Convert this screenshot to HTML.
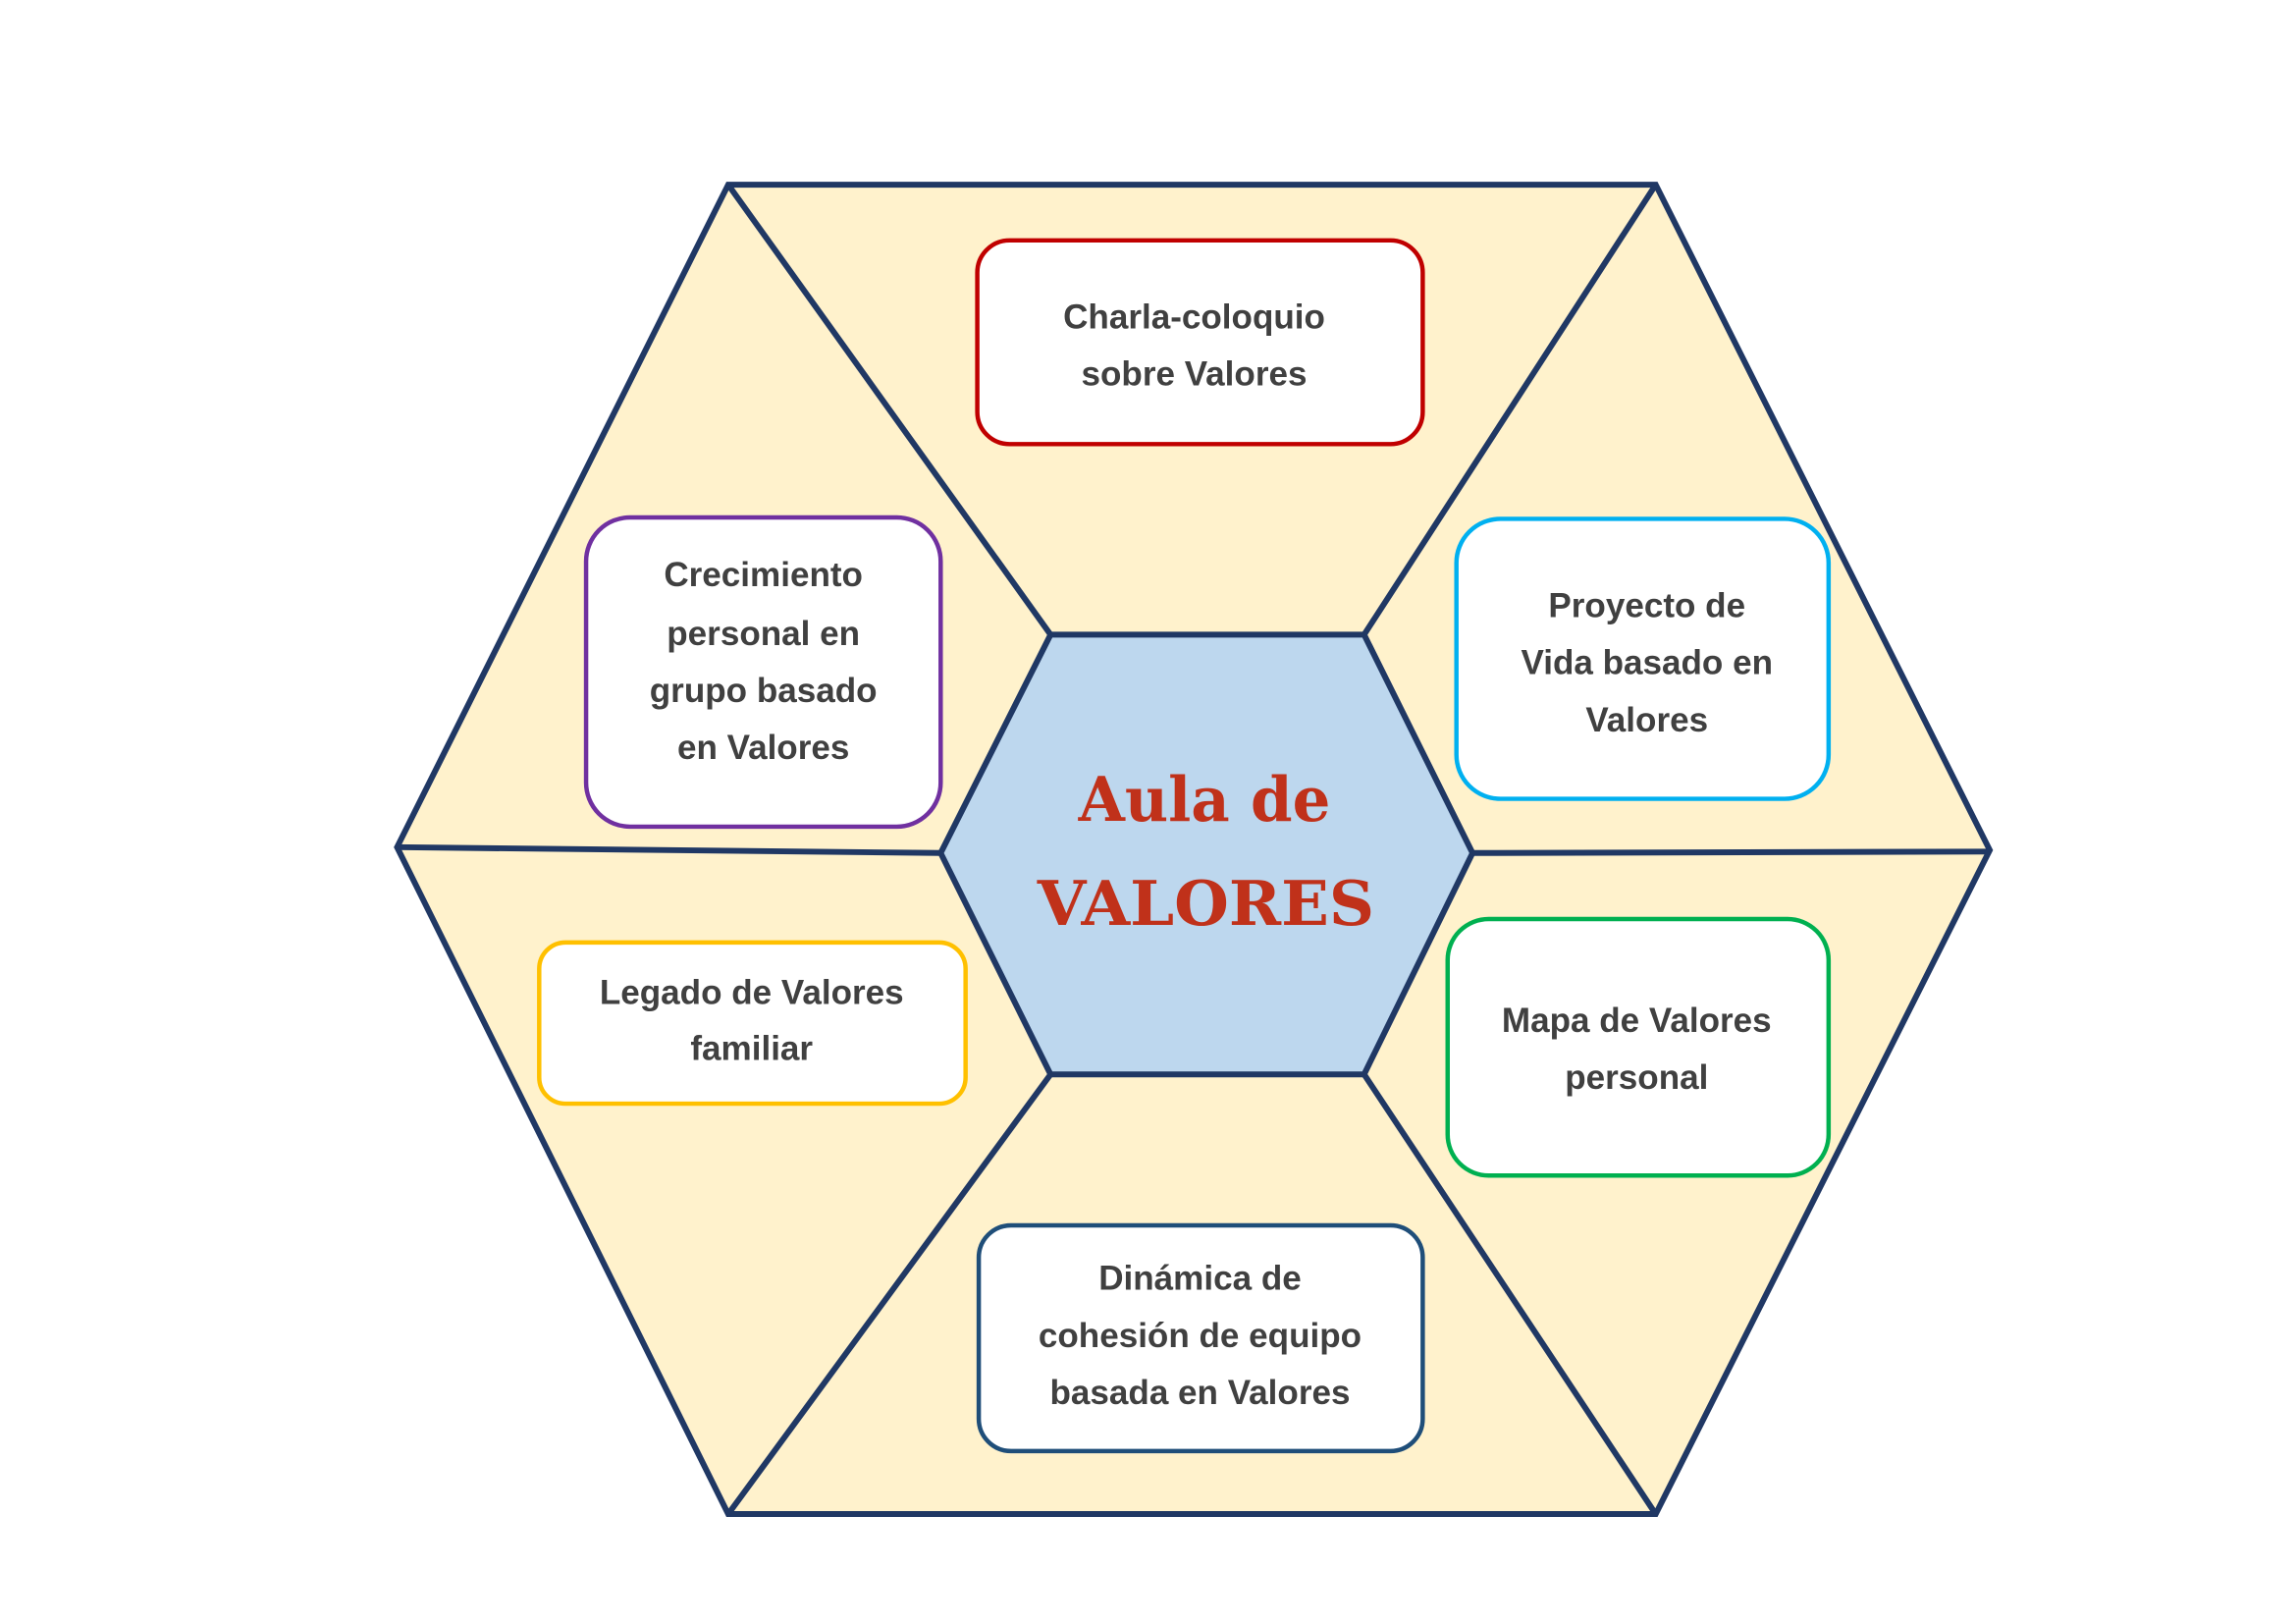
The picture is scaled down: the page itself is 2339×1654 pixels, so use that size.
<!DOCTYPE html>
<html><head><meta charset="utf-8"><style>
html,body{margin:0;padding:0;background:#fff;}
svg{display:block;}
.t{font-family:"Liberation Sans",Arial,sans-serif;font-weight:bold;font-size:23.5px;fill:#404040;text-anchor:middle;}
.c{font-family:"DejaVu Serif","Liberation Serif",serif;font-weight:bold;font-size:42px;fill:#c0311a;text-anchor:middle;}
</style></head><body>
<svg width="2339" height="1654" viewBox="0 0 1567 1108" preserveAspectRatio="none" xmlns="http://www.w3.org/2000/svg">
<g stroke="#203864" stroke-width="4" stroke-linejoin="miter">
<polygon points="497,126 1130,126 1358,580 1130,1033 497,1033 271,578" fill="#fff2cc"/>
<line x1="497" y1="126" x2="717" y2="433"/>
<line x1="1130" y1="126" x2="931" y2="433"/>
<line x1="1358" y1="581" x2="1005" y2="582"/>
<line x1="271" y1="578" x2="642" y2="582"/>
<line x1="497" y1="1033" x2="717" y2="733"/>
<line x1="1130" y1="1033" x2="931" y2="733"/>
<polygon points="717,433 931,433 1005,582 931,733 717,733 642,582" fill="#bdd7ee"/>
</g>
<g fill="#fff" stroke-width="3">
<rect x="667" y="164" width="304" height="139" rx="22" stroke="#c00000"/>
<rect x="400" y="353" width="242" height="211" rx="30" stroke="#7030a0"/>
<rect x="994" y="354" width="254" height="191" rx="30" stroke="#00b0f0"/>
<rect x="368" y="643" width="291" height="110" rx="18" stroke="#ffc000"/>
<rect x="988" y="627" width="260" height="175" rx="28" stroke="#00b050"/>
<rect x="668" y="836" width="303" height="154" rx="22" stroke="#1f4e79"/>
</g>
<text class="t" x="815" y="224">Charla-coloquio</text>
<text class="t" x="815" y="263">sobre Valores</text>
<text class="t" x="521" y="400">Crecimiento</text>
<text class="t" x="521" y="440">personal en</text>
<text class="t" x="521" y="479">grupo basado</text>
<text class="t" x="521" y="518">en Valores</text>
<text class="t" x="1124" y="421">Proyecto de</text>
<text class="t" x="1124" y="460">Vida basado en</text>
<text class="t" x="1124" y="499">Valores</text>
<text class="t" x="513" y="685">Legado de Valores</text>
<text class="t" x="513" y="723">familiar</text>
<text class="t" x="1117" y="704">Mapa de Valores</text>
<text class="t" x="1117" y="743">personal</text>
<text class="t" x="819" y="880">Dinámica de</text>
<text class="t" x="819" y="919">cohesión de equipo</text>
<text class="t" x="819" y="958">basada en Valores</text>
<text class="c" x="822" y="560" textLength="172" lengthAdjust="spacingAndGlyphs">Aula de</text>
<text class="c" x="823" y="631" textLength="230" lengthAdjust="spacingAndGlyphs">VALORES</text>
</svg>
</body></html>
